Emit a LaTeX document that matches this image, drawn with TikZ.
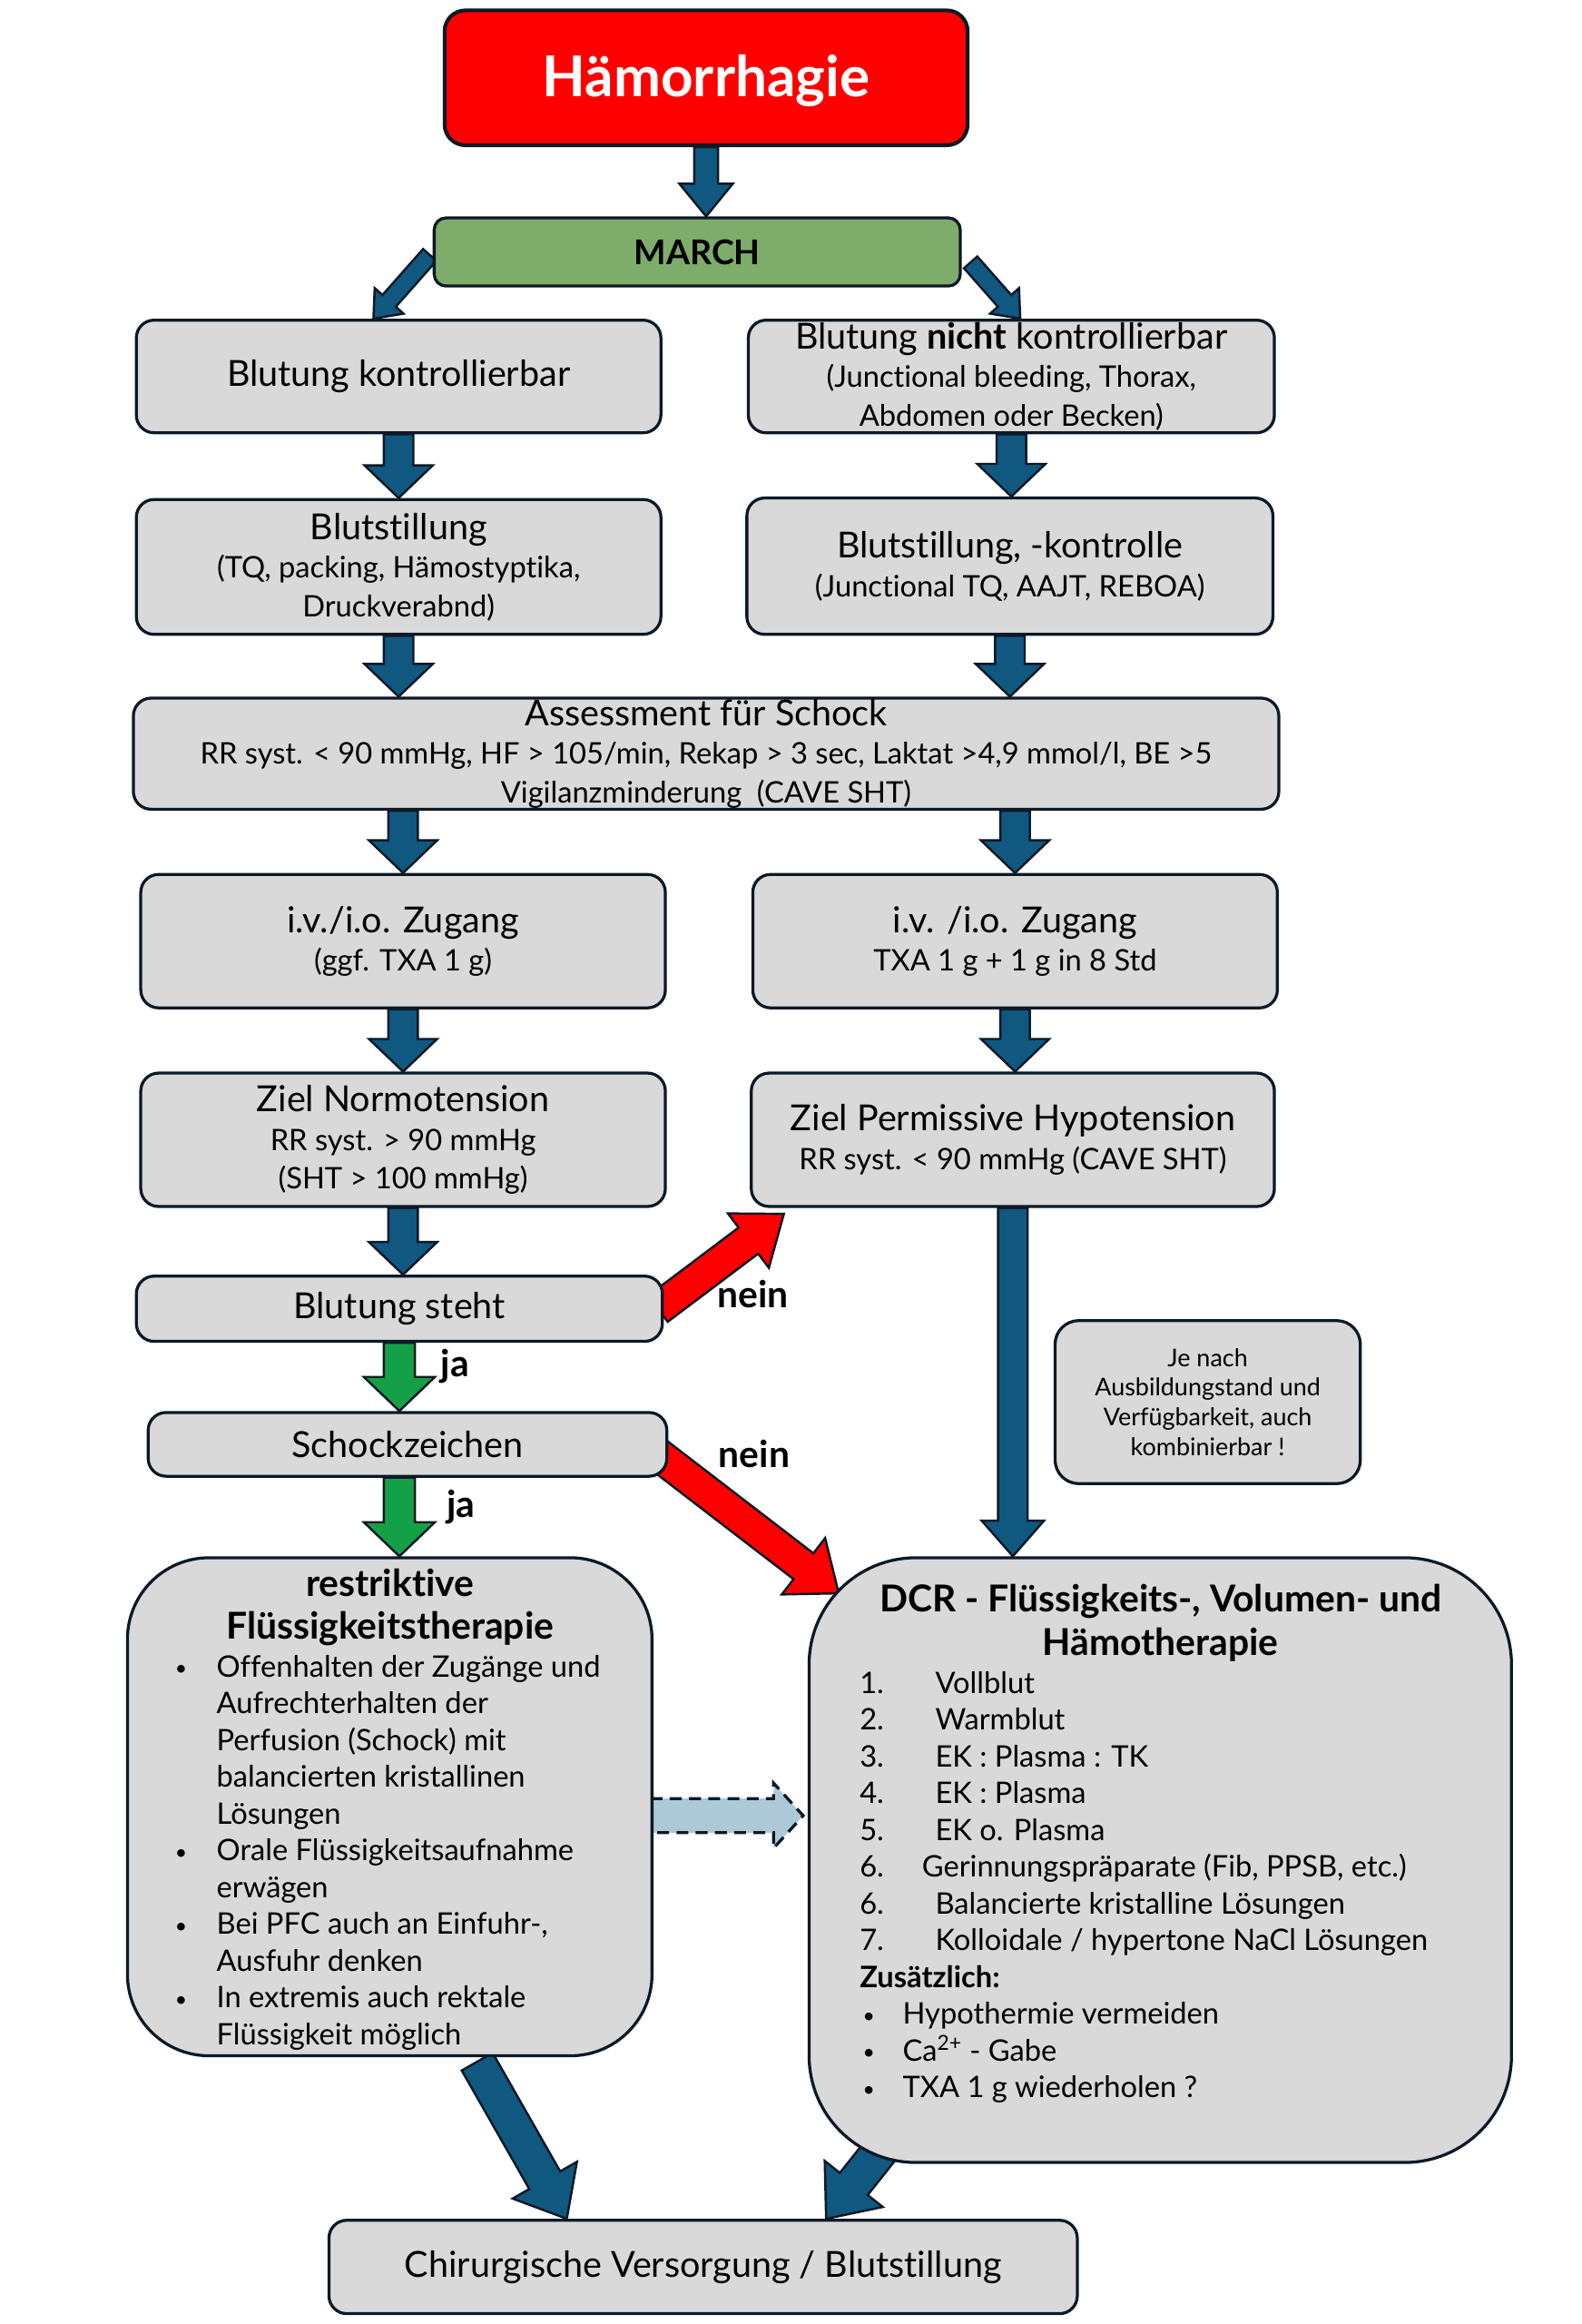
\documentclass[tikz,border=0pt]{standalone}
\usepackage{fontspec}
\setmainfont{Lato}[Ligatures=CommonOff]
\usetikzlibrary{calc}
\definecolor{boxgray}{RGB}{217,217,217}
\definecolor{boxline}{RGB}{12,25,38}
\definecolor{haemred}{RGB}{255,0,0}
\definecolor{marchgreen}{RGB}{126,172,106}
\definecolor{arrblue}{RGB}{16,88,128}
\definecolor{arrgreen}{RGB}{20,160,70}
\definecolor{arrred}{RGB}{255,0,0}
\definecolor{lightarr}{RGB}{173,200,214}
\pgfdeclarelayer{bg}
\pgfsetlayers{bg,main}
\newcommand{\sm}{\fontsize{20}{26}\selectfont}
\newcommand{\bul}{\raisebox{1pt}{\fontsize{14}{14}\selectfont\textbullet}}
% block arrow: #1 style, #2 start, #3 end, #4 shaft half width, #5 head half width, #6 head length
\newcommand{\barr}[6]{%
  \coordinate (bA) at #2;
  \coordinate (bB) at #3;
  \coordinate (bH) at ($(bB)!#6pt!(bA)$);
  \filldraw[#1] ($(bA)!#4pt!90:(bB)$) -- ($(bH)!#4pt!90:(bB)$) -- ($(bH)!#5pt!90:(bB)$)
    -- (bB) -- ($(bH)!#5pt!-90:(bB)$) -- ($(bH)!#4pt!-90:(bB)$) -- ($(bA)!#4pt!-90:(bB)$) -- cycle;
}
\tikzset{
  box/.style={draw=boxline, line width=2pt, fill=boxgray, rounded corners=12pt, inner sep=0pt,
    align=center, text=black, font=\fontsize{24.2}{26}\selectfont},
  bluea/.style={fill=arrblue, draw=boxline, line width=1.5pt, line join=miter},
  greena/.style={fill=arrgreen, draw=boxline, line width=1.5pt, line join=miter},
  reda/.style={fill=arrred, draw=boxline, line width=1.5pt, line join=miter},
  dasha/.style={fill=lightarr, draw=boxline, line width=2pt, dash pattern=on 8pt off 5pt},
  lbl/.style={font=\bfseries\fontsize{25}{28}\selectfont, inner sep=0pt}
}
\begin{document}
\begin{tikzpicture}[x=1pt, y=-1pt]
\useasboundingbox (0,0) rectangle (1067,1568);

\node[box, fill=haemred, rounded corners=14pt, line width=2.5pt, minimum width=353pt, minimum height=91pt,
  text=white, font=\bfseries\fontsize{38}{40}\selectfont] (haem) at (476.5,52.5) {\raisebox{-12.5pt}[0pt][0pt]{Hämorrhagie}};
\node[box, fill=marchgreen, minimum width=355pt, minimum height=46pt, rounded corners=8pt,
  font=\bfseries\fontsize{23}{26}\selectfont] (march) at (470.5,170) {MARCH};

\node[box, minimum width=354pt, minimum height=76pt] (bk) at (269,254) {Blutung kontrollierbar};
\node[box, minimum width=355pt, minimum height=76pt] (bnk) at (682.5,254)
  {Blutung \textbf{nicht} kontrollierbar\\\sm (Junctional bleeding, Thorax,\\\sm Abdomen oder Becken)};

\node[box, minimum width=354pt, minimum height=91pt] (bs) at (269,382.5)
  {Blutstillung\\\sm (TQ, packing, Hämostyptika,\\\sm Druckverabnd)};
\node[box, minimum width=355pt, minimum height=92pt] (bsk) at (681.5,382)
  {Blutstillung, -kontrolle\\\sm (Junctional TQ, AAJT, REBOA)};

\node[box, minimum width=773pt, minimum height=75pt] (ass) at (476.5,508.5)
  {Assessment für Schock\\\sm RR syst. < 90 mmHg, HF > 105/min, Rekap > 3 sec, Laktat >4,9 mmol/l, BE >5\\\sm Vigilanzminderung~ (CAVE SHT)};

\node[box, minimum width=354pt, minimum height=90pt] (ivl) at (272,635)
  {i.v./i.o. Zugang\\\sm (ggf. TXA 1 g)};
\node[box, minimum width=354pt, minimum height=90pt] (ivr) at (685,635)
  {i.v. /i.o. Zugang\\\sm TXA 1 g + 1 g in 8 Std};

\node[box, minimum width=354pt, minimum height=90pt] (zn) at (272,769)
  {Ziel Normotension\\\sm RR syst. > 90 mmHg\\\sm (SHT > 100 mmHg)};
\node[box, minimum width=353pt, minimum height=90pt] (zp) at (683.5,769)
  {Ziel Permissive Hypotension\\\sm RR syst. < 90 mmHg (CAVE SHT)};

\node[box, minimum width=355pt, minimum height=44pt] (bst) at (269.5,883) {Blutung steht};
\node[box, minimum width=350pt, minimum height=43pt] (sz) at (275,974.5) {Schockzeichen};

\node[box, minimum width=206pt, minimum height=110pt, rounded corners=16pt,
  font=\fontsize{16.5}{20}\selectfont] (note) at (815,946)
  {Je nach\\Ausbildungstand und\\Verfügbarkeit, auch\\kombinierbar !};

\node[box, minimum width=354pt, minimum height=336pt, rounded corners=55pt] (restr) at (263,1219) {};
\node[anchor=north west, inner sep=0pt] (restrtext) at (116,1058) {%
\begin{minipage}{294pt}
\centering\bfseries\fontsize{25}{29}\selectfont restriktive\\Flüssigkeitstherapie\par
\vspace{1pt}
\raggedright\mdseries\fontsize{20}{24.8}\selectfont
\makebox[30pt][l]{\hspace*{2pt}\bul}Offenhalten der Zugänge und\\
\hspace*{30pt}Aufrechterhalten der\\
\hspace*{30pt}Perfusion (Schock) mit\\
\hspace*{30pt}balancierten kristallinen\\
\hspace*{30pt}Lösungen\\
\makebox[30pt][l]{\hspace*{2pt}\bul}Orale Flüssigkeitsaufnahme\\
\hspace*{30pt}erwägen\\
\makebox[30pt][l]{\hspace*{2pt}\bul}Bei PFC auch an Einfuhr-,\\
\hspace*{30pt}Ausfuhr denken\\
\makebox[30pt][l]{\hspace*{2pt}\bul}In extremis auch rektale\\
\hspace*{30pt}Flüssigkeit möglich\par
\end{minipage}};

\node[box, minimum width=474pt, minimum height=408pt, rounded corners=72pt] (dcr) at (783,1255) {};
\node[anchor=north west, inner sep=0pt] (dcrtext) at (580,1069) {%
\begin{minipage}{406pt}
\centering\bfseries\fontsize{25}{29}\selectfont DCR - Flüssigkeits-, Volumen- und\\Hämotherapie\par
\vspace{1pt}
\raggedright\mdseries\fontsize{20}{24.8}\selectfont
\makebox[51pt][l]{1.}Vollblut\\
\makebox[51pt][l]{2.}Warmblut\\
\makebox[51pt][l]{3.}EK : Plasma : TK\\
\makebox[51pt][l]{4.}EK : Plasma\\
\makebox[51pt][l]{5.}EK o. Plasma\\
\makebox[42pt][l]{6.}Gerinnungspräparate (Fib, PPSB, etc.)\\
\makebox[51pt][l]{6.}Balancierte kristalline Lösungen\\
\makebox[51pt][l]{7.}Kolloidale / hypertone NaCl Lösungen\\
\textbf{Zusätzlich:}\\
\makebox[29pt][l]{\hspace*{2pt}\bul}Hypothermie vermeiden\\
\makebox[29pt][l]{\hspace*{2pt}\bul}Ca\textsuperscript{2+} - Gabe\\
\makebox[29pt][l]{\hspace*{2pt}\bul}TXA 1 g wiederholen ?\par
\end{minipage}};

\node[box, minimum width=505pt, minimum height=63pt] (chir) at (474.5,1529.5) {Chirurgische Versorgung / Blutstillung};

\node[lbl] (nein1) at (508,873) {nein};
\node[lbl] (nein2) at (509,981) {nein};
\node[lbl] (ja1) at (307,922) {ja};
\node[lbl] (ja2) at (311,1017) {ja};

\begin{pgfonlayer}{bg}
\barr{bluea}{(haem.south)}{(haem.south |- march.north)}{8}{18}{22}
\barr{bluea}{($(march.west)+(-2,2)$)}{($(bk.north)+(-17,0)$)}{6}{13}{16}
\barr{bluea}{($(march.east)+(6,7)$)}{($(bnk.north)+(6,0)$)}{6}{13}{16}
\barr{bluea}{(bk.south)}{(bk.south |- bs.north)}{10}{23}{22}
\barr{bluea}{(bnk.south)}{(bnk.south |- bsk.north)}{10}{23}{22}
\barr{bluea}{(bs.south)}{(bs.south |- ass.north)}{10}{23}{22}
\barr{bluea}{(bsk.south)}{(bsk.south |- ass.north)}{10}{23}{22}
\barr{bluea}{(ivl.north |- ass.south)}{(ivl.north)}{10}{23}{22}
\barr{bluea}{(ivr.north |- ass.south)}{(ivr.north)}{10}{23}{22}
\barr{bluea}{(ivl.south)}{(ivl.south |- zn.north)}{10}{23}{22}
\barr{bluea}{(ivr.south)}{(ivr.south |- zp.north)}{10}{23}{22}
\barr{bluea}{(zn.south)}{(zn.south |- bst.north)}{10}{23}{22}
\barr{greena}{(bst.south)}{(bst.south |- sz.north)}{10.5}{24}{23}
\barr{greena}{(bst.south |- sz.south)}{(bst.south |- restr.north)}{10.5}{24}{23}
\barr{reda}{($(bst.east)+(-4,0)$)}{($(zp.south west)+(23,4)$)}{11}{23}{30}
\barr{reda}{($(sz.east)+(-8,6)$)}{($(dcr.north west)+(21,25)$)}{11}{24}{30}
\barr{bluea}{(zp.south)}{(zp.south |- dcr.north)}{10}{21}{24}
\barr{dasha}{($(restr.east)+(-2,6)$)}{($(dcr.west |- restr.east)+(-3,6)$)}{11.5}{22}{20}
\barr{bluea}{($(restr.south)+(59,3)$)}{($(chir.north)+(-92,0)$)}{12}{25}{30}
\barr{bluea}{($(dcr.south)+(-189,-9)$)}{($(chir.north)+(83,0)$)}{12}{25}{30}
\end{pgfonlayer}
\end{tikzpicture}
\end{document}
